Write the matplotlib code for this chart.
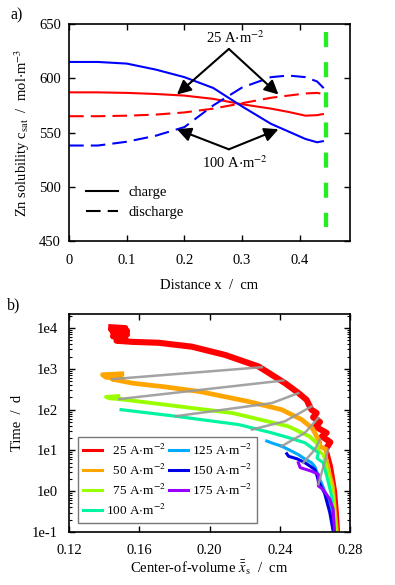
import numpy as np
import matplotlib
matplotlib.use("Agg")
import matplotlib.pyplot as plt
from matplotlib.ticker import FixedLocator, LogLocator, NullFormatter

plt.rcParams['font.family'] = ['Liberation Serif', 'DejaVu Serif']
plt.rcParams['mathtext.fontset'] = 'stix'
plt.rcParams['font.size'] = 10.5

# ---- panel a data: Zn solubility vs distance ----
x_a = [0, 0.05, 0.1, 0.15, 0.2, 0.25, 0.3, 0.35, 0.38, 0.41, 0.43, 0.44]
red_charge = [587, 587, 586.5, 585.5, 584, 581, 576, 572, 569, 565.5, 566, 567]
red_discharge = [565, 565, 565.5, 566.5, 568.5, 572, 577, 582, 584, 586, 586.5, 585.5]
blue_charge = [615, 615, 613.5, 608, 601, 591, 574, 558, 551, 544, 541, 542]
x_a_bd = [0, 0.05, 0.1, 0.15, 0.2, 0.25, 0.3, 0.35, 0.38, 0.41, 0.43, 0.445]
blue_discharge = [538, 538, 541.5, 547, 555, 575, 591.5, 601, 602.5, 601, 597, 589]
x_sep = 0.4454
sep_y = [463, 643]

# ---- panel b data: time vs center-of-volume ----
labels_b = ['  25 A$\\cdot$m$^{-2}$', '  50 A$\\cdot$m$^{-2}$', '  75 A$\\cdot$m$^{-2}$',
            '100 A$\\cdot$m$^{-2}$', '125 A$\\cdot$m$^{-2}$', '150 A$\\cdot$m$^{-2}$',
            '175 A$\\cdot$m$^{-2}$']
colors_b = ['#FF0000', '#FFA500', '#99FF00', '#00F5A0', '#00AAFF', '#0000E6', '#9900FF']

x25 = [0.144, 0.152, 0.144, 0.153, 0.145, 0.153, 0.145, 0.152, 0.147, 0.156, 0.171, 0.190,
       0.209, 0.228, 0.243, 0.2506, 0.2553, 0.258, 0.261, 0.259, 0.2629, 0.2605, 0.2667,
       0.264, 0.2688, 0.2667, 0.2695, 0.2718, 0.2728, 0.2735]
t25 = [10500, 10000, 9200, 8500, 7800, 7000, 6300, 5600, 4900, 4600, 4370, 3500,
       2190, 1140, 447, 257, 174, 100, 83, 65, 50, 38, 27,
       22, 16, 11.6, 4.1, 1.0, 0.3, 0.1]
x50 = [0.150, 0.139, 0.141, 0.150, 0.1445, 0.156, 0.175, 0.194, 0.2223, 0.2411, 0.2525,
       0.2585, 0.2600, 0.2629, 0.2620, 0.2657, 0.2676, 0.2704, 0.2716, 0.2728]
t50 = [760, 720, 620, 600, 560, 447, 360, 280, 158, 100, 57,
       35, 27, 15.4, 13, 11, 4.1, 1.35, 0.36, 0.1]
x75 = [0.148, 0.141, 0.143, 0.1486, 0.175, 0.2128, 0.2167, 0.2449, 0.257, 0.262, 0.2612,
       0.2647, 0.2666, 0.2686, 0.2704, 0.2722]
t75 = [215, 205, 190, 182, 132, 83, 76, 39, 22, 14, 11,
       7.9, 4.1, 1.95, 0.78, 0.1]
x100 = [0.1496, 0.1807, 0.2167, 0.2355, 0.2460, 0.2543, 0.2590, 0.262, 0.2612, 0.2647,
        0.2667, 0.2695, 0.2712]
t100 = [100, 69, 43, 27, 20, 15.5, 11, 8.7, 6.5, 5, 2.4, 0.78, 0.1]
x125 = [0.2326, 0.2360, 0.2411, 0.2460, 0.2506, 0.2540, 0.2581, 0.2600, 0.262, 0.2640,
        0.2665, 0.2690, 0.2708]
t125 = [17, 15, 12.7, 10, 7.9, 6.3, 5.0, 4.0, 2.4, 1.5, 0.8, 0.3, 0.1]
x150 = [0.2440, 0.2450, 0.2500, 0.2543, 0.2570, 0.2600, 0.2610, 0.262, 0.2655, 0.2685, 0.2705]
t150 = [8.3, 7.2, 6.2, 5.0, 4.2, 3.4, 2.6, 1.78, 0.9, 0.3, 0.1]
x175 = [0.2506, 0.2516, 0.2581, 0.262, 0.262, 0.2647, 0.2685, 0.2704, 0.2712]
t175 = [5.0, 3.8, 3.1, 2.6, 1.35, 1.1, 0.64, 0.36, 0.1]
curves_x = [x25, x50, x75, x100, x125, x150, x175]
curves_t = [t25, t50, t75, t100, t125, t150, t175]
widths_b = [4.4, 3.4, 2.8, 2.3, 2.2, 2.2, 2.2]

# gray iso-lines
gray_x = [[0.1445, 0.2298], [0.1486, 0.2421], [0.1807, 0.2355, 0.2506],
          [0.2241, 0.243, 0.2581], [0.2411, 0.2543, 0.262], [0.2534, 0.26, 0.2629],
          [0.262, 0.2676]]
gray_t = [[560, 1100], [182, 519], [69, 145, 255],
          [32.5, 52, 120], [12.7, 27, 63], [5.0, 10.5, 18.6],
          [1.48, 10.5]]

fig = plt.figure(figsize=(3.95, 5.85), dpi=100)
ax1 = fig.add_axes([0.175, 0.588, 0.711, 0.371])
ax2 = fig.add_axes([0.175, 0.0906, 0.711, 0.3724])

# ---------------- panel a ----------------
ax1.plot(x_a, red_charge, color='#FF0000', lw=1.5)
ax1.plot(x_a, red_discharge, color='#FF0000', lw=1.5, dashes=(7, 3.4))
ax1.plot(x_a, blue_charge, color='#0000FF', lw=1.5)
ax1.plot(x_a_bd, blue_discharge, color='#0000FF', lw=1.5, dashes=(7, 3.4))
ax1.plot([x_sep, x_sep], sep_y[::-1], color='#22EE22', lw=3.1, dashes=(3.5, 3.5))

ax1.plot([], [], color='k', lw=1.5, label='charge')
ax1.plot([], [], color='k', lw=1.5, dashes=(7, 3.4), label='discharge')
ax1.legend(loc='upper left', bbox_to_anchor=(0.06, 0.255), frameon=False,
           borderpad=0, borderaxespad=0, handlelength=2.2, handletextpad=0.7,
           labelspacing=0.5)

arrow = dict(arrowstyle='-|>,head_length=0.6,head_width=0.3', mutation_scale=14,
             lw=1.5, color='k', shrinkA=0, shrinkB=0)
for tx in [0.187, 0.363]:
    ax1.annotate('', xy=(tx, 585), xytext=(0.277, 627), arrowprops=arrow)
    ax1.annotate('', xy=(tx, 553), xytext=(0.277, 534.5), arrowprops=arrow)
ax1.text(0.288, 637, '25 A$\\cdot$m$^{-2}$', ha='center', va='center')
ax1.text(0.288, 522, '100 A$\\cdot$m$^{-2}$', ha='center', va='center')

ax1.set_xlim(0, 0.487)
ax1.set_ylim(450, 650)
ax1.set_xticks([0, 0.1, 0.2, 0.3, 0.4])
ax1.set_xticklabels(['0', '0.1', '0.2', '0.3', '0.4'])
ax1.set_yticks([450, 500, 550, 600, 650])
ax1.set_xlabel('Distance x  /  cm', labelpad=9)
ax1.set_ylabel('Zn solubility c$_{\\mathrm{sat}}$  /  mol$\\cdot$m$^{-3}$', labelpad=5)
ax1.tick_params(direction='in', top=True, right=True, length=4, width=1)
ax1.tick_params(axis='x', pad=9)
ax1.tick_params(axis='y', pad=6)

# ---------------- panel b ----------------
for xs, ts, c, w, lab in zip(curves_x, curves_t, colors_b, widths_b, labels_b):
    xs, ts = np.array(xs), np.array(ts)
    upper = ts >= 11
    # thick upper part (cycling), thinner tail near the bottom
    if upper.sum() > 1:
        ax2.plot(xs[upper], ts[upper], color=c, lw=w, solid_joinstyle='round', zorder=2)
    k = max(int(upper.sum()) - 1, 0)
    ax2.plot(xs[k:], ts[k:], color=c, lw=2.2, solid_joinstyle='round', zorder=2)
    ax2.plot([], [], color=c, lw=2.2, label=lab)
for gx, gt in zip(gray_x, gray_t):
    ax2.plot(gx, gt, color='#999999', lw=1.8, alpha=0.9, zorder=3)

ax2.set_yscale('log')
ax2.set_xlim(0.12, 0.28)
ax2.set_ylim(0.1, 2.2e4)
ax2.set_xticks([0.12, 0.16, 0.20, 0.24, 0.28])
ax2.set_xticklabels(['0.12', '0.16', '0.20', '0.24', '0.28'])
ax2.yaxis.set_major_locator(FixedLocator([0.1, 1, 10, 100, 1000, 10000]))
ax2.set_yticklabels(['1e-1', '1e0', '1e1', '1e2', '1e3', '1e4'])
ax2.yaxis.set_minor_locator(LogLocator(base=10, subs=np.arange(2, 10), numticks=20))
ax2.yaxis.set_minor_formatter(NullFormatter())
ax2.set_xlabel('Center-of-volume $\\bar{\\bar{x}}_\\mathrm{s}$  /  cm', labelpad=1)
ax2.set_ylabel('Time  /  d', labelpad=6)
ax2.tick_params(which='major', direction='in', top=True, right=True, length=4, width=1)
ax2.tick_params(which='minor', direction='in', top=True, right=True, length=2, width=0.8)
ax2.tick_params(axis='x', which='major', pad=9)
ax2.tick_params(axis='y', which='major', pad=8)

leg = ax2.legend(loc='lower left', bbox_to_anchor=(0.031, 0.04), ncol=2,
                 borderaxespad=0, borderpad=0.4, handlelength=1.45, handletextpad=0.25,
                 columnspacing=0.3, labelspacing=0.38, fancybox=False, fontsize=9.5)
leg.get_frame().set_edgecolor('#777777')
leg.get_frame().set_linewidth(1.0)
leg.get_frame().set_alpha(1)

for ax in (ax1, ax2):
    for s in ax.spines.values():
        s.set_linewidth(1.2)

fig.text(17 / 395, 1 - 15 / 585, 'a)', ha='center', va='center', fontsize=11.5)
fig.text(14 / 395, 1 - 305 / 585, 'b)', ha='center', va='center', fontsize=11.5)

fig.savefig('out.png', dpi=100)
